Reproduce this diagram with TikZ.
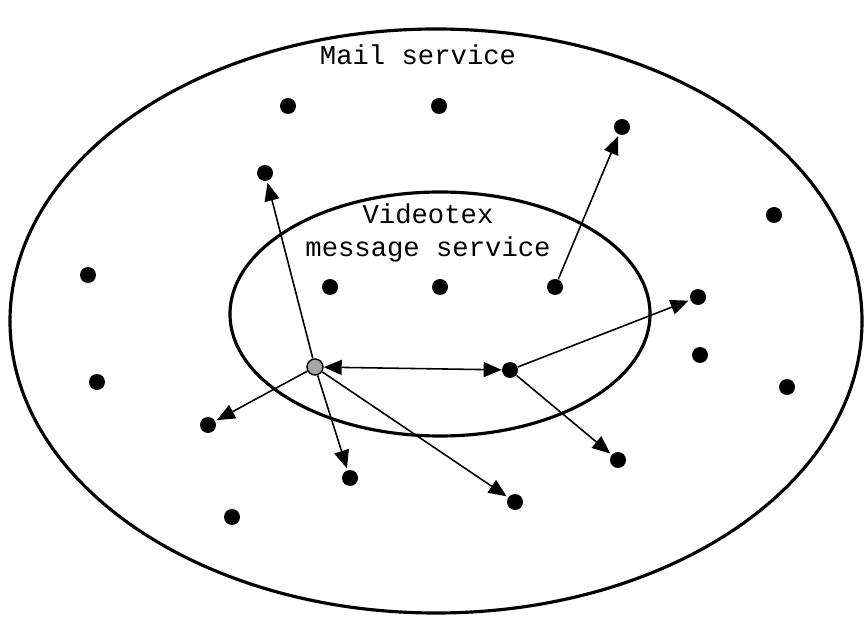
\documentclass[tikz,border=0pt]{standalone}
\usepackage{fontspec}
\setmonofont{Liberation Mono}
\usetikzlibrary{arrows.meta}

\begin{document}
\begin{tikzpicture}[x=0.02cm,y=-0.02cm,
          every node/.style={font=\ttfamily\fontsize{15.5}{18.5}\selectfont},
          station/.style={circle,fill=black,inner sep=0pt,minimum size=0.32cm},
          sender/.style={circle,draw,fill=black!35,line width=0.8pt,inner sep=0pt,minimum size=0.32cm},
          region/.style={line width=1.8pt},
          arr/.style={-{Triangle[length=3.6mm,width=3mm]}, line width=0.9pt, shorten >=1pt},
          darr/.style={{Triangle[length=3.6mm,width=3mm]}-{Triangle[length=3.6mm,width=3mm]}, line width=0.9pt}
      ]
        \useasboundingbox (0,0) rectangle (864,617);

        % service areas
        \draw[region] (436,321) ellipse [x radius=426, y radius=292];
        \draw[region] (440,314) ellipse [x radius=210, y radius=122];
        \node (mail) at (418,55) {Mail service};
        \node[align=center] (vtx) at (428,233) {Videotex\\message service};

        % stations outside
        \node[station] (m1) at (288,106) {};
        \node[station] (m2) at (439,106) {};
        \node[station] (m3) at (622,127) {};
        \node[station] (m4) at (265,173) {};
        \node[station] (m5) at (774,215) {};
        \node[station] (m6) at (88,275) {};
        \node[station] (m7) at (698,297) {};
        \node[station] (m8) at (700,355) {};
        \node[station] (m9) at (97,382) {};
        \node[station] (m10) at (787,387) {};
        \node[station] (m11) at (208,425) {};
        \node[station] (m12) at (618,460) {};
        \node[station] (m13) at (350,478) {};
        \node[station] (m14) at (515,502) {};
        \node[station] (m15) at (232,517) {};

        % stations inside
        \node[station] (v1) at (330,287) {};
        \node[station] (v2) at (440,287) {};
        \node[station] (v3) at (555,287) {};
        \node[sender] (src) at (315,367) {};
        \node[station] (v4) at (510,370) {};

        \draw[arr] (v3) -- (m3);
        \draw[arr] (src) -- (m4);
        \draw[arr] (src) -- (m11);
        \draw[arr] (src) -- (m13);
        \draw[arr] (src) -- (m14);
        \draw[darr] (src) -- (v4);
        \draw[arr] (v4) -- (m7);
        \draw[arr] (v4) -- (m12);
      \end{tikzpicture}
\end{document}
